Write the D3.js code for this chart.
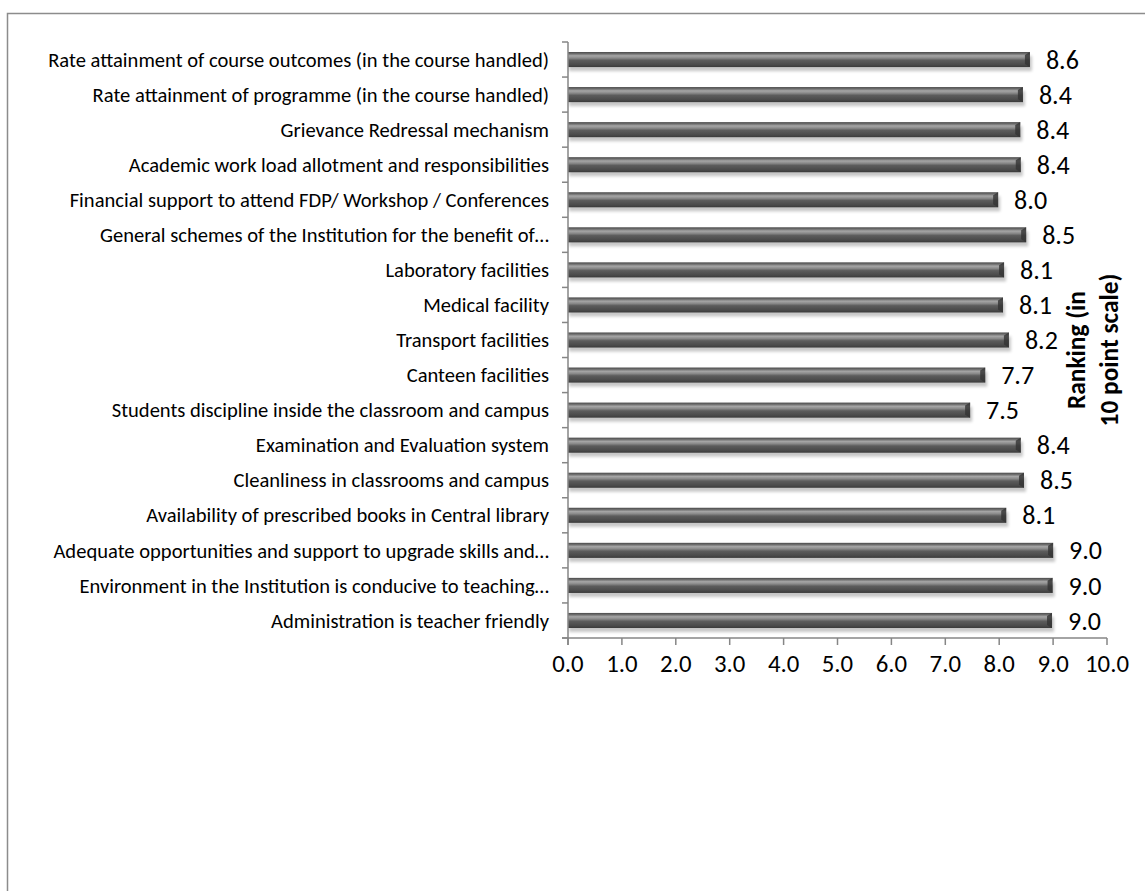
<!DOCTYPE html>
<html>
<head>
<meta charset="utf-8">
<script src="https://cdn.jsdelivr.net/npm/d3@7"></script>
<style>
  body { margin: 0; background: #fff; }
  svg text { font-family: Carlito, Calibri, "Open Sans", sans-serif; }
</style>
</head>
<body>
<div id="chart-area"></div>
<script>
const categories = [
  "Rate attainment of course outcomes (in the course handled)",
  "Rate attainment of programme (in the course handled)",
  "Grievance Redressal mechanism",
  "Academic work load allotment and responsibilities",
  "Financial support to attend FDP/ Workshop / Conferences",
  "General schemes of the Institution for the benefit of…",
  "Laboratory facilities",
  "Medical facility",
  "Transport facilities",
  "Canteen facilities",
  "Students discipline inside the classroom and campus",
  "Examination and Evaluation system",
  "Cleanliness in classrooms and campus",
  "Availability of prescribed books in Central library",
  "Adequate opportunities and support to upgrade skills and…",
  "Environment in the Institution is conducive to teaching…",
  "Administration is teacher friendly"
]
const values = [8.57, 8.44, 8.39, 8.4, 7.98, 8.5, 8.09, 8.07, 8.18, 7.74, 7.46, 8.4, 8.46, 8.13, 9.0, 8.99, 8.98]
const xTicks = [0, 1, 2, 3, 4, 5, 6, 7, 8, 9, 10]
const axisTitle = ["Ranking (in", "10 point scale)"]

const W = 1145, H = 891
const X0 = 568, X1 = 1107, Y0 = 42, Y1 = 638

const svg = d3.select("#chart-area").append("svg")
  .attr("width", W)
  .attr("height", H)

// pick a font size so a sample string gets the width seen in the picture
function fitSize(str, target, weight) {
  const t = svg.append("text").attr("font-size", "20px").attr("font-weight", weight || "normal").text(str)
  const w = t.node().getComputedTextLength()
  t.remove()
  return 20 * target / w
}
const catSize = fitSize(categories[0], 501)
const valSize = fitSize("8.6", 33)
const tickSize = fitSize("10.0", 44)
const titleSize = fitSize(axisTitle[0], 118, "bold")

// outer chart border (only top and left visible)
svg.append("rect")
  .attr("x", 7.5).attr("y", 13.5)
  .attr("width", 1200).attr("height", 1000)
  .attr("fill", "none")
  .attr("stroke", "#8c8c8c")
  .attr("stroke-width", 1.5)

const defs = svg.append("defs")
const grad = defs.append("linearGradient")
  .attr("id", "barGrad")
  .attr("x1", 0).attr("y1", 0).attr("x2", 0).attr("y2", 1)
const stops = [[0, "#4a4a4a"], [0.12, "#6e6e6e"], [0.25, "#a6a6a6"], [0.4, "#8a8a8a"], [0.55, "#5c5c5c"], [0.85, "#4a4a4a"], [1, "#3a3a3a"]]
stops.forEach(s => grad.append("stop").attr("offset", s[0]).attr("stop-color", s[1]))

const blur = defs.append("filter").attr("id", "shadow")
  .attr("x", "-5%").attr("y", "-50%").attr("width", "110%").attr("height", "200%")
blur.append("feGaussianBlur").attr("stdDeviation", 1.6)

const xScale = d3.scaleLinear()
  .domain([0, 10])
  .range([X0, X1])

const yScale = d3.scaleBand()
  .domain(categories)
  .range([Y0, Y1])
  .paddingInner(0.57)
  .paddingOuter(0.285)

const data = categories.map((c, i) => ({ cat: c, v: values[i] }))

// shadows
svg.selectAll(".shadow").data(data).enter().append("rect")
  .attr("class", "shadow")
  .attr("x", X0 + 1)
  .attr("y", d => yScale(d.cat) + 4)
  .attr("width", d => xScale(d.v) - X0 + 1)
  .attr("height", yScale.bandwidth())
  .attr("fill", "#000")
  .attr("opacity", 0.22)
  .attr("filter", "url(#shadow)")

// bars
svg.selectAll(".bar").data(data).enter().append("rect")
  .attr("class", "bar")
  .attr("x", X0)
  .attr("y", d => yScale(d.cat))
  .attr("width", d => xScale(d.v) - X0)
  .attr("height", yScale.bandwidth())
  .attr("fill", "url(#barGrad)")

// bevelled end caps
svg.selectAll(".cap").data(data).enter().append("path")
  .attr("class", "cap")
  .attr("d", d => {
    const x = xScale(d.v), y = yScale(d.cat), h = yScale.bandwidth()
    return `M${x - 5},${y + 3} L${x},${y} L${x},${y + h} L${x - 5},${y + h - 3} Z`
  })
  .attr("fill", "#333")
  .attr("opacity", 0.8)

// y axis line + ticks between categories
const axisColor = "#868686"
svg.append("line")
  .attr("x1", X0).attr("x2", X0)
  .attr("y1", Y0).attr("y2", Y1 + 7)
  .attr("stroke", axisColor).attr("stroke-width", 1.5)
d3.range(categories.length + 1).forEach(i => {
  const y = Y0 + i * yScale.step()
  svg.append("line")
    .attr("x1", X0 - 6).attr("x2", X0)
    .attr("y1", y).attr("y2", y)
    .attr("stroke", axisColor).attr("stroke-width", 1.5)
})

// x axis
svg.append("line")
  .attr("x1", X0 - 6).attr("x2", X1)
  .attr("y1", Y1).attr("y2", Y1)
  .attr("stroke", axisColor).attr("stroke-width", 1.5)
svg.selectAll(".xtick").data(xTicks).enter().append("line")
  .attr("x1", d => xScale(d)).attr("x2", d => xScale(d))
  .attr("y1", Y1).attr("y2", Y1 + 7)
  .attr("stroke", axisColor).attr("stroke-width", 1.5)
svg.selectAll(".xlabel").data(xTicks).enter().append("text")
  .attr("x", d => xScale(d))
  .attr("y", Y1 + 34)
  .attr("text-anchor", "middle")
  .attr("font-size", tickSize + "px")
  .attr("fill", "#000")
  .text(d => d.toFixed(1))

// category labels
svg.selectAll(".cat").data(data).enter().append("text")
  .attr("x", 549)
  .attr("y", d => yScale(d.cat) + yScale.bandwidth() / 2)
  .attr("dy", "0.35em")
  .attr("text-anchor", "end")
  .attr("font-size", catSize + "px")
  .attr("fill", "#000")
  .text(d => d.cat)

// value labels
svg.selectAll(".val").data(data).enter().append("text")
  .attr("x", d => xScale(d.v) + 16)
  .attr("y", d => yScale(d.cat) + yScale.bandwidth() / 2)
  .attr("dy", "0.35em")
  .attr("font-size", valSize + "px")
  .attr("fill", "#000")
  .text(d => d.v.toFixed(1))

// axis title (rotated, two lines)
axisTitle.forEach((t, i) => {
  svg.append("text")
    .attr("transform", `translate(${1085 + i * 33}, 350) rotate(-90)`)
    .attr("text-anchor", "middle")
    .attr("font-size", titleSize + "px")
    .attr("font-weight", "bold")
    .attr("fill", "#000")
    .text(t)
})
</script>
</body>
</html>
